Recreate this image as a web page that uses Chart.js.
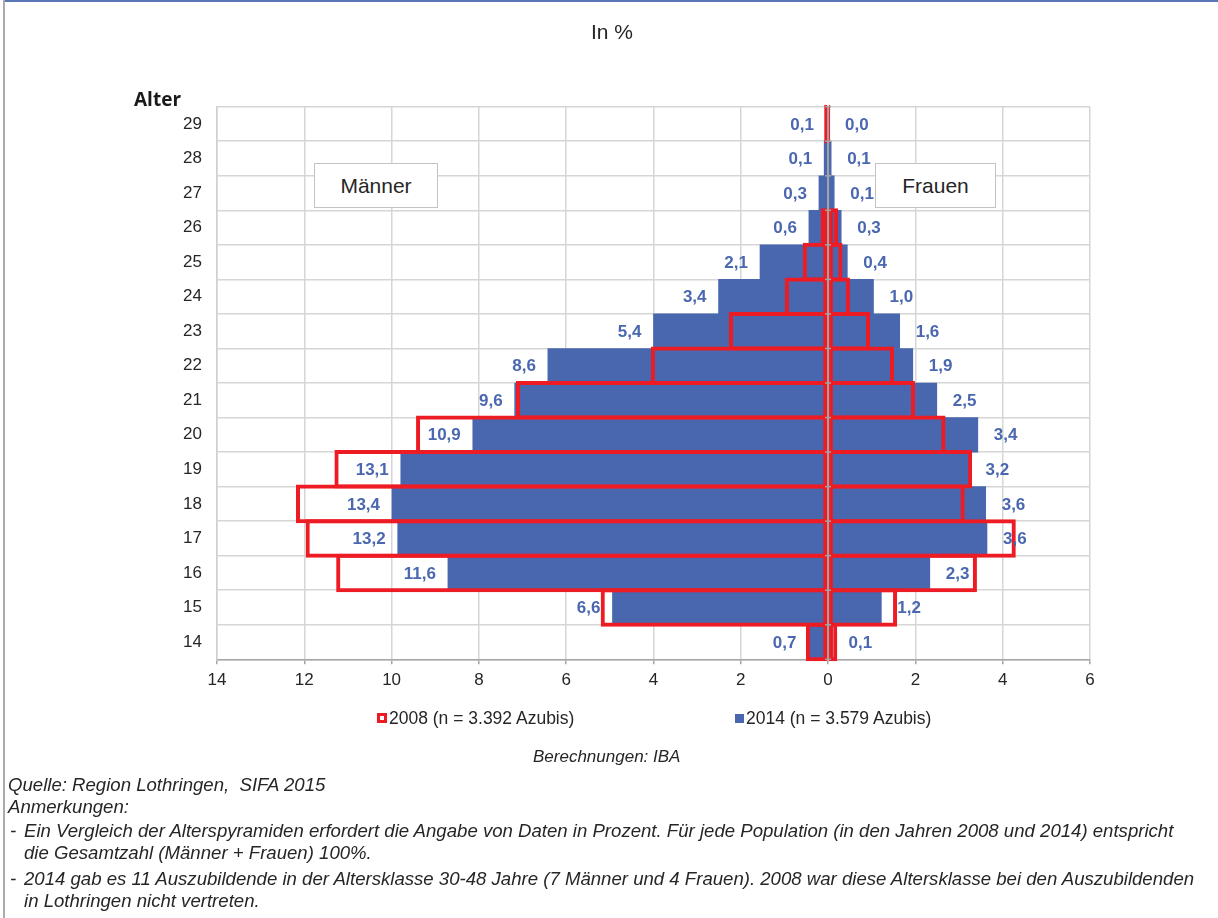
<!DOCTYPE html>
<html lang="de">
<head>
<meta charset="utf-8">
<title>Alterspyramide Auszubildende Lothringen</title>
<script src="https://cdn.jsdelivr.net/npm/chart.js@4.4.1/dist/chart.umd.min.js"></script>
<style>
  html, body { margin: 0; padding: 0; background: #fff; }
  #wrap { position: relative; width: 1218px; height: 918px; overflow: hidden;
          font-family: "Liberation Sans", Arial, sans-serif; color: #262626; }
  #chart { position: absolute; left: 0; top: 0; }
  .abs { position: absolute; white-space: nowrap; }
  #topline { position: absolute; left: 3px; top: 0; width: 1215px; height: 2px; background: #5b77b8; }
  #leftline { position: absolute; left: 3px; top: 0; width: 2px; height: 918px; background: #ababab; }
  #title { left: 0; width: 1224px; top: 19px; line-height: 26px; text-align: center; font-size: 21px; }
  #alter { left: 134px; top: 86px; font-family: "Open Sans", sans-serif; font-weight: 700; font-size: 19px; line-height: 26px; color: #1a1a1a; }
  .box { position: absolute; top: 163px; height: 43px; border: 1px solid #c3c3c3; background: #fff;
         font-size: 21px; line-height: 43px; text-align: center; color: #262626; }
  .lg { top: 707px; font-size: 17.5px; line-height: 22px; }
  .icon { position: absolute; }
  .foot { font-size: 18.6px; font-style: italic; line-height: 22px; color: #262626; }
</style>
</head>
<body>
<div id="wrap">
  <canvas id="chart" width="1218" height="918"></canvas>
  <div id="topline"></div>
  <div id="leftline"></div>
  <div class="abs" id="title">In %</div>
  <div class="abs" id="alter">Alter</div>
  <div class="box" style="left:314px;width:122px;">Männer</div>
  <div class="box" style="left:875px;width:119px;">Frauen</div>

  <div class="icon" style="left:377px;top:713px;width:10px;height:10px;background:#ed1c24;"></div>
  <div class="icon" style="left:380px;top:716px;width:4px;height:4px;background:#fff;"></div>
  <div class="abs lg" style="left:389px;">2008 (n = 3.392 Azubis)</div>
  <div class="icon" style="left:735px;top:714px;width:9px;height:9px;background:#4967af;"></div>
  <div class="abs lg" style="left:746px;">2014 (n = 3.579 Azubis)</div>

  <div class="abs foot" style="left:533px;top:746px;font-size:17px;">Berechnungen: IBA</div>

  <div class="abs foot" style="left:8px;top:774px;">Quelle: Region Lothringen,&nbsp; SIFA 2015</div>
  <div class="abs foot" style="left:8px;top:796px;">Anmerkungen:</div>
  <div class="abs foot" style="left:10px;top:820px;">-</div>
  <div class="abs foot" style="left:24px;top:820px;">Ein Vergleich der Alterspyramiden erfordert die Angabe von Daten in Prozent. Für jede Population (in den Jahren 2008 und 2014) entspricht</div>
  <div class="abs foot" style="left:24px;top:842px;">die Gesamtzahl (Männer + Frauen) 100%.</div>
  <div class="abs foot" style="left:10px;top:868px;">-</div>
  <div class="abs foot" style="left:24px;top:868px;">2014 gab es 11 Auszubildende in der Altersklasse 30-48 Jahre (7 Männer und 4 Frauen). 2008 war diese Altersklasse bei den Auszubildenden</div>
  <div class="abs foot" style="left:24px;top:890px;">in Lothringen nicht vertreten.</div>
</div>

<script>
// Altersklassen von oben nach unten
const alter = ['29','28','27','26','25','24','23','22','21','20','19','18','17','16','15','14'];

// Anteile 2014 (gefüllte Balken), in % aller Auszubildenden
const maenner2014 = [0.05, 0.09, 0.21, 0.44, 1.56, 2.51, 4.00, 6.42, 7.18, 8.14, 9.79, 9.99, 9.86, 8.71, 4.94, 0.45];
const frauen2014  = [0.02, 0.07, 0.14, 0.30, 0.44, 1.04, 1.64, 1.94, 2.49, 3.43, 3.24, 3.61, 3.64, 2.33, 1.22, 0.10];

// Anteile 2008 (rot umrandete Balken)
const maenner2008 = [0.09, 0.00, 0.00, 0.17, 0.58, 0.99, 2.27, 4.06, 7.15, 9.44, 11.31, 12.19, 11.97, 11.27, 5.21, 0.51];
const frauen2008  = [0.05, 0.00, 0.00, 0.23, 0.33, 0.50, 0.96, 1.51, 1.99, 2.69, 3.30, 3.13, 4.30, 3.41, 1.58, 0.21];

// Beschriftung der Männerseite: Anteil innerhalb der Männer
const maennerBeschriftung = ['0,1','0,1','0,3','0,6','2,1','3,4','5,4','8,6','9,6','10,9','13,1','13,4','13,2','11,6','6,6','0,7'];

// Achsenteilung
const xMin = -14, xMax = 6, xSchritt = 2;

const BLAU = '#4967af';
const ROT = '#ed1c24';
const LABEL_BLAU = '#4a67b0';
const FONT = '"Liberation Sans", Arial, sans-serif';

const fmt = v => Math.abs(v).toFixed(1).replace('.', ',');

// Nulllinie mit kleinen Teilstrichen über den Balken
const nullLinie = {
  id: 'nullLinie',
  afterDatasetsDraw(chart) {
    const { ctx, chartArea, scales } = chart;
    const x0 = scales.x.getPixelForValue(0);
    ctx.save();
    ctx.strokeStyle = '#a3a3a3';
    ctx.lineWidth = 2;
    ctx.beginPath();
    ctx.moveTo(x0, chartArea.top);
    ctx.lineTo(x0, chartArea.bottom);
    ctx.stroke();
    ctx.lineWidth = 1.5;
    const n = alter.length;
    const h = (chartArea.bottom - chartArea.top) / n;
    for (let i = 0; i <= n; i++) {
      const y = chartArea.top + i * h;
      ctx.beginPath();
      ctx.moveTo(x0 - 3, y);
      ctx.lineTo(x0 + 3, y);
      ctx.stroke();
    }
    ctx.restore();
  }
};

// Wertebeschriftungen neben den Balken 2014
const werte = {
  id: 'werte',
  afterDatasetsDraw(chart) {
    const { ctx } = chart;
    ctx.save();
    ctx.font = 'bold 17px ' + FONT;
    ctx.fillStyle = LABEL_BLAU;
    ctx.textBaseline = 'middle';
    const mMeta = chart.getDatasetMeta(2);
    const fMeta = chart.getDatasetMeta(3);
    mMeta.data.forEach((el, i) => {
      ctx.textAlign = 'right';
      ctx.fillText(maennerBeschriftung[i], el.x - 12, el.y + 1);
    });
    fMeta.data.forEach((el, i) => {
      ctx.textAlign = 'left';
      ctx.fillText(fmt(frauen2014[i]), el.x + 16, el.y + 1);
    });
    ctx.restore();
  }
};

const rotBalken = {
  backgroundColor: 'rgba(0,0,0,0)',
  borderColor: ROT,
  borderWidth: 4,
  borderSkipped: false,
  categoryPercentage: 1,
  barPercentage: 1.116,
  clip: false,
  order: 0
};
const blauBalken = {
  backgroundColor: BLAU,
  borderWidth: 0,
  categoryPercentage: 1,
  barPercentage: 1,
  order: 1
};

new Chart(document.getElementById('chart'), {
  type: 'bar',
  data: {
    labels: alter,
    datasets: [
      Object.assign({ label: '2008 Männer', data: maenner2008.map(v => -v) }, rotBalken),
      Object.assign({ label: '2008 Frauen', data: frauen2008 }, rotBalken),
      Object.assign({ label: '2014 Männer', data: maenner2014.map(v => -v) }, blauBalken),
      Object.assign({ label: '2014 Frauen', data: frauen2014 }, blauBalken)
    ]
  },
  options: {
    indexAxis: 'y',
    responsive: false,
    animation: false,
    grouped: false,
    layout: { padding: { left: 0, right: 128, top: 106.7, bottom: 218.7 } },
    plugins: {
      legend: { display: false },
      tooltip: { enabled: false }
    },
    scales: {
      x: {
        type: 'linear',
        min: xMin,
        max: xMax,
        afterFit(scale) { scale.height = 40; },
        ticks: {
          stepSize: xSchritt,
          padding: 6,
          color: '#262626',
          font: { family: FONT, size: 17 },
          callback: v => String(Math.abs(v))
        },
        grid: { color: '#d6d6d6', lineWidth: 1.5, drawTicks: true, tickLength: 5, tickColor: '#a6a6a6' },
        border: { display: true, color: '#a6a6a6', width: 1.5 }
      },
      y: {
        type: 'category',
        afterFit(scale) { scale.width = 217; },
        ticks: {
          padding: 15,
          color: '#262626',
          font: { family: FONT, size: 17 }
        },
        grid: { color: '#d6d6d6', lineWidth: 1.5, drawTicks: false, offset: true },
        border: { display: true, color: '#d0d0d0', width: 1.5 }
      }
    }
  },
  plugins: [nullLinie, werte]
});
</script>
</body>
</html>
